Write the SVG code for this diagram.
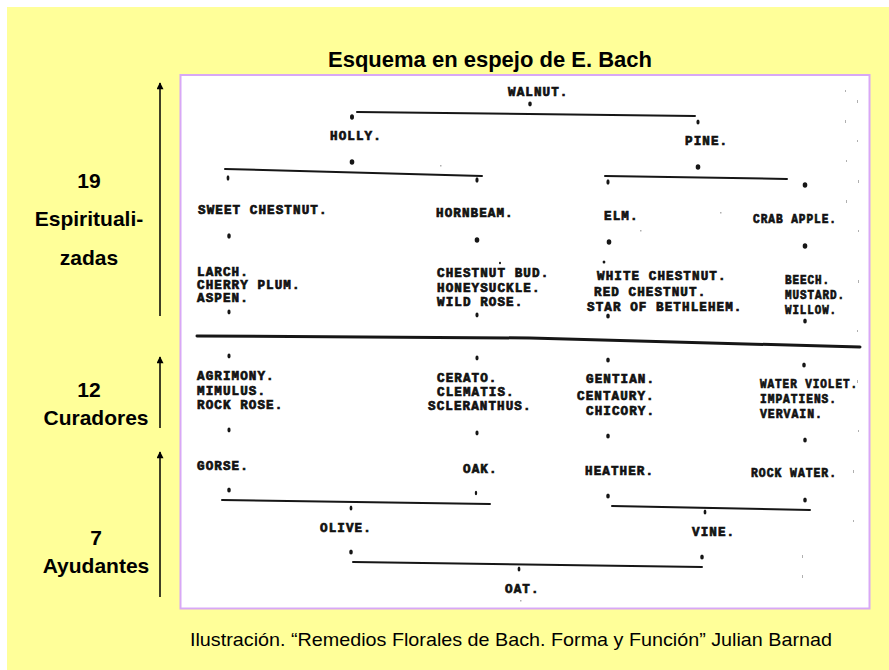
<svg xmlns="http://www.w3.org/2000/svg" width="889" height="670" viewBox="0 0 889 670">
<style>
.t{font-family:"Liberation Mono","DejaVu Sans Mono",monospace;font-weight:bold;font-size:12.6px;letter-spacing:1.08px;fill:#111;stroke:#111;stroke-width:0.7}
.lbl{font-family:"Liberation Sans",Arial,sans-serif;font-weight:bold;font-size:21px;fill:#000;text-anchor:middle}
.ttl{font-family:"Liberation Sans",Arial,sans-serif;font-weight:bold;font-size:22px;fill:#000;text-anchor:middle}
.cap{font-family:"Liberation Sans",Arial,sans-serif;font-size:19px;fill:#000}
.ln{fill:none;stroke:#161616;stroke-width:2;stroke-linecap:round}
.dot{fill:#161616}
.arr{stroke:#000;stroke-width:1.5;fill:none}
.spk{fill:#b0b0b0}
</style>
<defs>
<marker id="ah" viewBox="0 0 10 10" refX="9" refY="5" markerWidth="9" markerHeight="7" orient="auto" markerUnits="userSpaceOnUse">
<path d="M0,0 L10,5 L0,10 Z" fill="#000"/>
</marker>
</defs>
<rect x="0" y="0" width="889" height="670" fill="#ffffff"/>
<rect x="7" y="7" width="882" height="663" fill="#FFFF99"/>
<text class="ttl" x="490" y="67">Esquema en espejo de E. Bach</text>
<rect x="180.5" y="75" width="689" height="533.5" fill="#ffffff" stroke="#D8A8F6" stroke-width="2"/>
<g id="scan-noise">
<rect class="spk" x="845" y="90" width="1" height="2"/><rect class="spk" x="845" y="120" width="1" height="3"/><rect class="spk" x="846" y="160" width="1" height="2"/><rect class="spk" x="846" y="200" width="1" height="3"/><rect class="spk" x="857" y="100" width="1" height="3"/><rect class="spk" x="857" y="140" width="1" height="2"/><rect class="spk" x="858" y="180" width="1" height="3"/><rect class="spk" x="858" y="230" width="1" height="2"/><rect class="spk" x="858" y="280" width="1" height="3"/><rect class="spk" x="857" y="330" width="1" height="2"/><rect class="spk" x="857" y="380" width="1" height="3"/><rect class="spk" x="858" y="430" width="1" height="2"/><rect class="spk" x="853" y="470" width="1" height="3"/><rect class="spk" x="853" y="520" width="1" height="2"/><rect class="spk" x="802" y="555" width="1" height="3"/><rect class="spk" x="802" y="575" width="1" height="3"/><rect class="spk" x="520" y="600" width="1.5" height="1.5"/><rect class="spk" x="440" y="165" width="1.5" height="1.5"/><rect class="spk" x="640" y="230" width="1.5" height="1.5"/><rect class="spk" x="720" y="212" width="1.5" height="1.5"/>
</g>
<g id="axis-labels">
<g id="lbl-espiritualizadas">
<line class="arr" x1="160" y1="316" x2="160" y2="83" marker-end="url(#ah)"/>
<text class="lbl" x="89" y="188">19</text>
<text class="lbl" x="89" y="226">Espirituali-</text>
<text class="lbl" x="89" y="265">zadas</text>
</g>
<g id="lbl-curadores">
<line class="arr" x1="160" y1="428" x2="160" y2="357" marker-end="url(#ah)"/>
<text class="lbl" x="89" y="397">12</text>
<text class="lbl" x="96" y="425">Curadores</text>
</g>
<g id="lbl-ayudantes">
<line class="arr" x1="160" y1="597" x2="160" y2="452" marker-end="url(#ah)"/>
<text class="lbl" x="96" y="545">7</text>
<text class="lbl" x="96" y="573">Ayudantes</text>
</g>
</g>
<g id="connectors">
<path class="ln" d="M357,112 L695,116"/>
<path class="ln" d="M225,169 L482,176"/>
<path class="ln" d="M605,176 L787,179"/>
<path class="ln" style="stroke-width:3" d="M197,336 L530,338 L860,347"/>
<path class="ln" d="M222,500 L490,504"/>
<path class="ln" d="M612,506 L810,510"/>
<path class="ln" d="M353,562 L702,567"/>
<g id="dots">
<ellipse class="dot" cx="530" cy="104" rx="1.8" ry="2.4"/>
<ellipse class="dot" cx="352" cy="117" rx="2" ry="2.8"/>
<ellipse class="dot" cx="698" cy="122" rx="1.6" ry="2.6"/>
<ellipse class="dot" cx="352" cy="162" rx="2.3" ry="2.8"/>
<ellipse class="dot" cx="698" cy="167" rx="2.3" ry="2.8"/>
<ellipse class="dot" cx="228" cy="178" rx="1.4" ry="2.8"/>
<ellipse class="dot" cx="477" cy="180" rx="1.6" ry="2.8"/>
<ellipse class="dot" cx="608" cy="182" rx="1.6" ry="2.8"/>
<ellipse class="dot" cx="805" cy="185" rx="2.3" ry="2.8"/>
<ellipse class="dot" cx="229" cy="236" rx="1.8" ry="2.8"/>
<ellipse class="dot" cx="477" cy="240" rx="2.3" ry="2.8"/>
<ellipse class="dot" cx="609" cy="242" rx="2.3" ry="2.8"/>
<ellipse class="dot" cx="805" cy="246" rx="2.3" ry="2.8"/>
<ellipse class="dot" cx="604" cy="262" rx="1.4" ry="1.6"/>
<ellipse class="dot" cx="500" cy="263" rx="1" ry="1.2"/>
<ellipse class="dot" cx="229" cy="312" rx="1.6" ry="2.4"/>
<ellipse class="dot" cx="477" cy="315" rx="1.6" ry="2.4"/>
<ellipse class="dot" cx="608" cy="316" rx="1.8" ry="2.6"/>
<ellipse class="dot" cx="805" cy="321" rx="1.8" ry="2.6"/>
<ellipse class="dot" cx="229" cy="356" rx="1.6" ry="2.4"/>
<ellipse class="dot" cx="477" cy="358" rx="1.6" ry="2.4"/>
<ellipse class="dot" cx="608" cy="360" rx="1.8" ry="2.6"/>
<ellipse class="dot" cx="804" cy="365" rx="1.8" ry="2.6"/>
<ellipse class="dot" cx="229" cy="430" rx="1.6" ry="2.4"/>
<ellipse class="dot" cx="477" cy="433" rx="1.6" ry="2.4"/>
<ellipse class="dot" cx="608" cy="436" rx="1.8" ry="2.6"/>
<ellipse class="dot" cx="805" cy="440" rx="1.8" ry="2.6"/>
<ellipse class="dot" cx="229" cy="490" rx="1.8" ry="2.6"/>
<ellipse class="dot" cx="476" cy="493" rx="1.2" ry="2.2"/>
<ellipse class="dot" cx="608" cy="496" rx="1.8" ry="2.6"/>
<ellipse class="dot" cx="805" cy="500" rx="1.8" ry="2.6"/>
<ellipse class="dot" cx="351" cy="508" rx="1.4" ry="2.6"/>
<ellipse class="dot" cx="705" cy="512" rx="1.4" ry="2.6"/>
<ellipse class="dot" cx="351" cy="552" rx="1.8" ry="2.6"/>
<ellipse class="dot" cx="702" cy="557" rx="1.8" ry="2.6"/>
<ellipse class="dot" cx="519" cy="569" rx="1.4" ry="2.6"/>
</g>
</g>
<g id="nodes">
<g id="n-walnut"><text class="t" x="508" y="96">WALNUT.</text></g>
<g id="n-holly"><text class="t" x="330" y="140">HOLLY.</text></g>
<g id="n-pine"><text class="t" x="685" y="145">PINE.</text></g>
<g id="n-sweet-chestnut"><text class="t" x="198" y="214">SWEET CHESTNUT.</text></g>
<g id="n-hornbeam"><text class="t" x="436" y="217">HORNBEAM.</text></g>
<g id="n-elm"><text class="t" x="604" y="220">ELM.</text></g>
<g id="n-crab-apple"><text class="t" x="753" y="223" textLength="84" lengthAdjust="spacingAndGlyphs">CRAB APPLE.</text></g>
<g id="n-larch"><text class="t" x="197" y="276">LARCH.</text><text class="t" x="197" y="289">CHERRY PLUM.</text><text class="t" x="197" y="302">ASPEN.</text></g>
<g id="n-chestnut-bud"><text class="t" x="437" y="277">CHESTNUT BUD.</text><text class="t" x="437" y="292">HONEYSUCKLE.</text><text class="t" x="437" y="306">WILD ROSE.</text></g>
<g id="n-white-chestnut"><text class="t" x="597" y="280">WHITE CHESTNUT.</text><text class="t" x="594" y="296">RED CHESTNUT.</text><text class="t" x="587" y="311">STAR OF BETHLEHEM.</text></g>
<g id="n-beech"><text class="t" x="785" y="284" textLength="45" lengthAdjust="spacingAndGlyphs">BEECH.</text><text class="t" x="785" y="299" textLength="60" lengthAdjust="spacingAndGlyphs">MUSTARD.</text><text class="t" x="785" y="314" textLength="52" lengthAdjust="spacingAndGlyphs">WILLOW.</text></g>
<g id="n-agrimony"><text class="t" x="197" y="380">AGRIMONY.</text><text class="t" x="197" y="395">MIMULUS.</text><text class="t" x="197" y="409">ROCK ROSE.</text></g>
<g id="n-cerato"><text class="t" x="437" y="382">CERATO.</text><text class="t" x="437" y="396">CLEMATIS.</text><text class="t" x="428" y="410">SCLERANTHUS.</text></g>
<g id="n-gentian"><text class="t" x="586" y="383">GENTIAN.</text><text class="t" x="577" y="400">CENTAURY.</text><text class="t" x="586" y="415">CHICORY.</text></g>
<g id="n-water-violet"><text class="t" x="760" y="388" textLength="98" lengthAdjust="spacingAndGlyphs">WATER VIOLET.</text><text class="t" x="760" y="403" textLength="77" lengthAdjust="spacingAndGlyphs">IMPATIENS.</text><text class="t" x="760" y="418" textLength="63" lengthAdjust="spacingAndGlyphs">VERVAIN.</text></g>
<g id="n-gorse"><text class="t" x="197" y="470">GORSE.</text></g>
<g id="n-oak"><text class="t" x="463" y="473">OAK.</text></g>
<g id="n-heather"><text class="t" x="585" y="475">HEATHER.</text></g>
<g id="n-rock-water"><text class="t" x="751" y="477" textLength="86" lengthAdjust="spacingAndGlyphs">ROCK WATER.</text></g>
<g id="n-olive"><text class="t" x="320" y="532">OLIVE.</text></g>
<g id="n-vine"><text class="t" x="692" y="536">VINE.</text></g>
<g id="n-oat"><text class="t" x="505" y="593">OAT.</text></g>
</g>
<text class="cap" x="190" y="646" textLength="642" lengthAdjust="spacingAndGlyphs">Ilustración. “Remedios Florales de Bach. Forma y Función” Julian Barnad</text>
</svg>
